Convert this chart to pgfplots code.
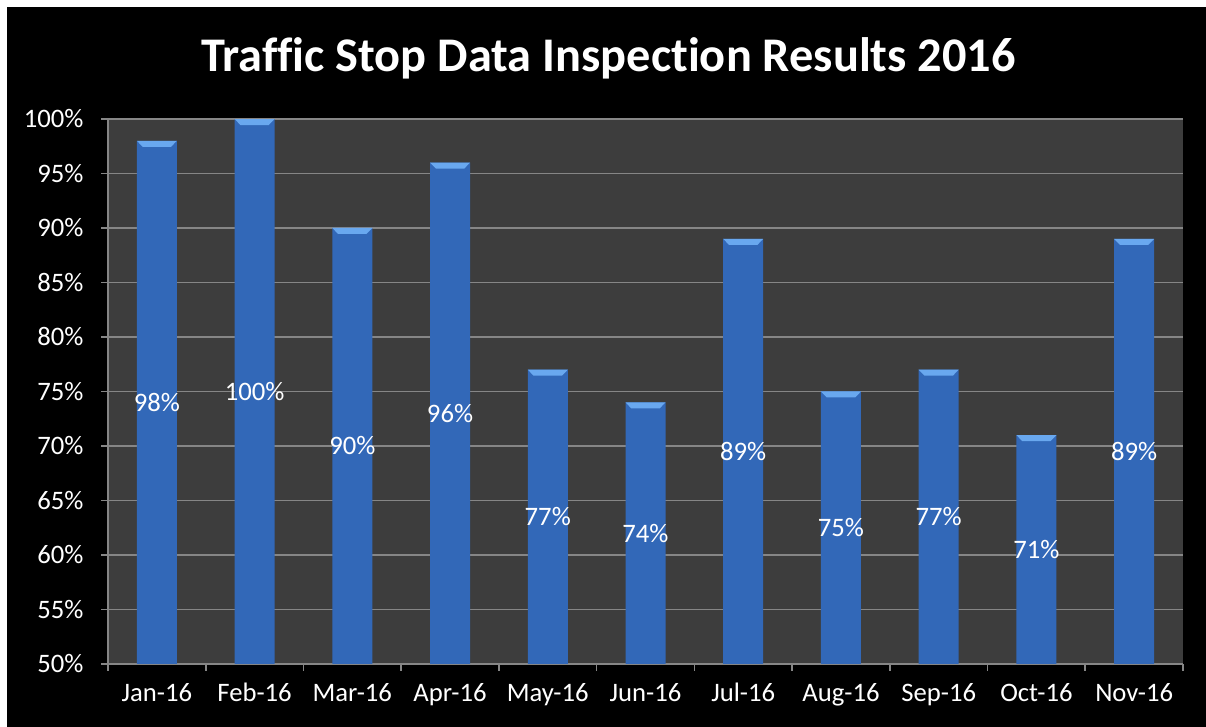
\documentclass[border=0pt]{standalone}
\usepackage{fontspec}
\setmainfont{Carlito}[Ligatures=NoCommon]
\usepackage{pgfplots}
\pgfplotsset{compat=1.18}
\definecolor{plotbg}{HTML}{3D3D3D}
\definecolor{gridgray}{HTML}{868686}
\definecolor{bardark}{HTML}{3268B8}
\definecolor{barmid}{HTML}{4A8CE2}
\definecolor{capcol}{HTML}{69A8EF}
\pgfdeclareplotmark{cap}{%
  \pgfpathmoveto{\pgfpoint{-12pt}{0pt}}%
  \pgfpathlineto{\pgfpoint{12pt}{0pt}}%
  \pgfpathlineto{\pgfpoint{8.5pt}{-3.6pt}}%
  \pgfpathlineto{\pgfpoint{-8.5pt}{-3.6pt}}%
  \pgfpathclose\pgfusepathqfill}
\begin{document}
\begin{tikzpicture}
\fill[white] (0,0) rectangle (723.6pt,436.2pt);
\fill[black] (4.2pt,0) rectangle (723.6pt,432pt);
\node[font=\bfseries\fontsize{29}{32}\selectfont, text=white] at (365pt,401pt) {Traffic Stop Data Inspection Results 2016};
\begin{axis}[
  at={(64.8pt,37.8pt)}, anchor=south west,
  scale only axis, width=645pt, height=327pt,
  xmin=-0.5, xmax=10.5, ymin=50, ymax=100,
  axis background/.style={fill=plotbg},
  axis lines*=left,
  axis line style={draw=gridgray, line width=1pt},
  tick align=outside,
  major tick length=4.2pt,
  every tick/.style={draw=gridgray, line width=1pt},
  ymajorgrids, grid style={draw=gridgray, line width=1pt},
  ytick={50,55,...,100},
  yticklabels={50\%,55\%,60\%,65\%,70\%,75\%,80\%,85\%,90\%,95\%,100\%},
  yticklabel style={font=\fontsize{16}{18}\selectfont, text=white, xshift=-7pt},
  xtick={-0.5,0.5,...,10.5}, xticklabels={},
  extra x ticks={0,1,2,3,4,5,6,7,8,9,10},
  extra x tick labels={Jan-16,Feb-16,Mar-16,Apr-16,May-16,Jun-16,Jul-16,Aug-16,Sep-16,Oct-16,Nov-16},
  extra x tick style={major tick length=0pt, xticklabel style={font=\fontsize{16}{18}\selectfont, text=white, yshift=-8pt}},
  /pgf/number format/assume math mode=true,
]
\addplot[ybar, bar width=24pt, draw=none, left color=bardark, middle color=barmid, right color=bardark]
  coordinates {(0,98) (1,100) (2,90) (3,96) (4,77) (5,74) (6,89) (7,75) (8,77) (9,71) (10,89)};
\addplot[only marks, mark=cap, mark options={fill=capcol, draw=none}]
  coordinates {(0,98) (1,100) (2,90) (3,96) (4,77) (5,74) (6,89) (7,75) (8,77) (9,71) (10,89)};
\addplot[draw=none, mark=none, nodes near coords, point meta=explicit symbolic,
  every node near coord/.style={anchor=center, text=white, font=\fontsize{16}{18}\selectfont}]
  table[meta=lab] {
x y lab
0 74 98\%
1 75 100\%
2 70 90\%
3 73 96\%
4 63.5 77\%
5 62 74\%
6 69.5 89\%
7 62.5 75\%
8 63.5 77\%
9 60.5 71\%
10 69.5 89\%
};
\end{axis}
\end{tikzpicture}
\end{document}
